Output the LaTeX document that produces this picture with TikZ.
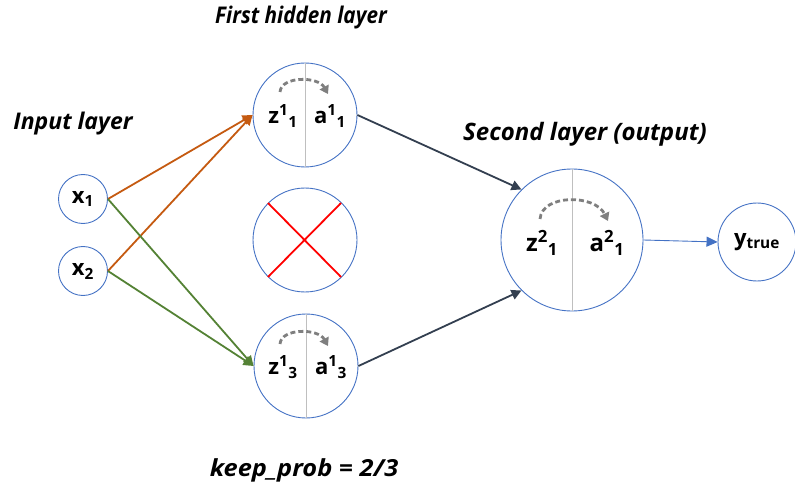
\documentclass[tikz,border=0pt]{standalone}
\usepackage{fontspec}
\setmainfont{Open Sans}
\usetikzlibrary{arrows.meta}
\definecolor{nodeblue}{HTML}{4472C4}
\definecolor{orangeA}{HTML}{C55A11}
\definecolor{greenA}{HTML}{548235}
\definecolor{darkA}{HTML}{333F50}
\definecolor{splitgray}{HTML}{BFBFBF}
\definecolor{dashgray}{HTML}{7F7F7F}
\tikzset{
  neuron/.style={circle, draw=nodeblue, line width=0.9pt, inner sep=0pt, minimum size=#1},
  lbl/.style={font=\fontsize{#1}{24}\selectfont\bfseries\itshape},
  ntext/.style={font=\fontsize{#1}{24}\selectfont\bfseries, inner sep=0pt},
  conn/.style={line width=1.8pt, -{Triangle[length=10pt,width=10pt]}},
  splitline/.style={draw=splitgray, line width=0.8pt},
  flow/.style={draw=dashgray, line width=2.8pt, dash pattern=on 5pt off 3pt, -{Triangle[length=8pt,width=10pt]}}
}
\begin{document}
\begin{tikzpicture}[x=1pt,y=-1pt]
\useasboundingbox (0,0) rectangle (795,489);
% nodes
\node[neuron=49pt] (x1) at (83,199) {};
\node[ntext=22] at (83,199) {x\textsubscript{1}};
\node[neuron=49pt] (x2) at (83,271) {};
\node[ntext=22] at (83,271) {x\textsubscript{2}};
\node[neuron=104pt] (h1) at (305,115) {};
\node[neuron=104pt] (h2) at (305,240) {};
\node[neuron=104pt] (h3) at (306,366) {};
\node[neuron=142pt] (o) at (572,240) {};
\node[neuron=78pt] (y) at (757,242) {};
\node[ntext=22] at (757,242) {y\textsubscript{true}};
% split lines
\draw[splitline] (h1.north) -- (h1.south);
\draw[splitline] (h3.north) -- (h3.south);
\draw[splitline] (o.north) -- (o.south);
% texts in neurons
\node[ntext=22] (z11) at (283,116) {z\textsuperscript{1}\textsubscript{1}};
\node[ntext=22] (a11) at (330,116) {a\textsuperscript{1}\textsubscript{1}};
\node[ntext=22] (z13) at (283,367) {z\textsuperscript{1}\textsubscript{3}};
\node[ntext=22] (a13) at (331,367) {a\textsuperscript{1}\textsubscript{3}};
\node[ntext=24] (z21) at (542,243) {z\textsuperscript{2}\textsubscript{1}};
\node[ntext=24] (a21) at (607,243) {a\textsuperscript{2}\textsubscript{1}};
% dashed flow arrows
\coordinate (f1s) at (280,92); \coordinate (f1e) at (328,94);
\draw[flow] (f1s) .. controls (281,76) and (318,76) .. (f1e);
\coordinate (f3s) at (280,344); \coordinate (f3e) at (328,346);
\draw[flow] (f3s) .. controls (281,328) and (318,328) .. (f3e);
\coordinate (f2s) at (540,219); \coordinate (f2e) at (608,221);
\draw[flow] (f2s) .. controls (542,194) and (595,194) .. (f2e);
% dropout cross
\draw[red, line width=1.8pt] (268,203) -- (341,277);
\draw[red, line width=1.8pt] (341,203) -- (268,277);
% connectors
\draw[conn, orangeA] (x1.east) -- (h1.west);
\draw[conn, orangeA] (x2.east) -- (h1.west);
\draw[conn, greenA] (x1.east) -- (h3.west);
\draw[conn, greenA] (x2.east) -- (h3.west);
\draw[conn, darkA] (h1.east) -- (o.north west);
\draw[conn, darkA] (h3.east) -- (o.south west);
\draw[line width=0.9pt, nodeblue, -{Triangle[length=11pt,width=10pt]}] (o.east) -- (y.west);
% labels
\node[lbl=23] at (73,124) {Input layer};
\node[lbl=23] at (301,18) {\scalebox{0.9}[1]{First hidden layer}};
\node[lbl=24] at (585,134) {Second layer (output)};
\node[lbl=23.5] at (304,470) {\scalebox{1.08}[1]{keep\_prob = 2/3}};
\end{tikzpicture}
\end{document}
